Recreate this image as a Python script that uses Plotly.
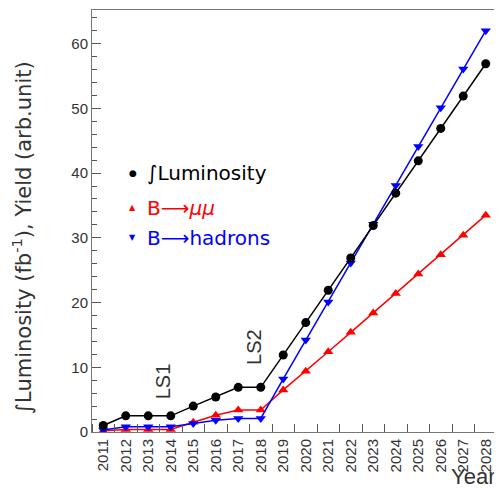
import plotly.graph_objects as go

years = list(range(2011, 2029))
tick_labels = [str(y) for y in years]
lumi = [1, 2.5, 2.5, 2.5, 4, 5.4, 6.9, 6.9, 11.9, 16.9, 21.9, 26.9, 31.9, 36.9, 41.9, 46.9, 51.9, 56.9]
b_mumu = [0.2, 0.4, 0.4, 0.4, 1.5, 2.6, 3.4, 3.4, 6.5, 9.4, 12.4, 15.4, 18.4, 21.4, 24.4, 27.4, 30.4, 33.5]
b_hadrons = [0.3, 0.8, 0.8, 0.8, 1.3, 1.8, 2.1, 2.1, 8.2, 14.2, 20.1, 26.1, 32.1, 38.1, 44.1, 50.1, 56.1, 62.0]

FONT = "Liberation Sans, Arial, sans-serif"
WIDE = "DejaVu Sans, Verdana, sans-serif"
TXT = "#333333"

fig = go.Figure()
fig.add_trace(go.Scatter(x=years, y=b_mumu, mode="lines+markers",
                         line=dict(color="#ff0000", width=1.5),
                         marker=dict(symbol="triangle-up", size=9, color="#ff0000"),
                         showlegend=False))
fig.add_trace(go.Scatter(x=years, y=b_hadrons, mode="lines+markers",
                         line=dict(color="#0000ff", width=1.5),
                         marker=dict(symbol="triangle-down", size=9, color="#0000ff"),
                         showlegend=False))
fig.add_trace(go.Scatter(x=years, y=lumi, mode="lines+markers",
                         line=dict(color="#000000", width=1.5),
                         marker=dict(symbol="circle", size=9, color="#000000"),
                         showlegend=False))

# legend as annotations
legend_items = [
    ("●", "∫Luminosity", "#000000", 0.614, 9),
    ("▲", "B⟶<i>μμ</i>", "#ff0000", 0.531, 8),
    ("▼", "B⟶hadrons", "#0000ff", 0.46, 8),
]
for sym, txt, col, yp, ss in legend_items:
    fig.add_annotation(xref="paper", yref="paper", x=0.101, y=yp, text=sym,
                       showarrow=False, xanchor="center", yanchor="middle",
                       font=dict(family=WIDE, size=ss, color=col))
    fig.add_annotation(xref="paper", yref="paper", x=0.132, y=yp, text=txt,
                       showarrow=False, xanchor="left", yanchor="middle",
                       font=dict(family=WIDE, size=20, color=col))

# LS labels
fig.add_annotation(x=2013.66, y=7.85, text="LS1", textangle=-90, showarrow=False,
                   xanchor="center", yanchor="middle",
                   font=dict(family=FONT, size=20, color=TXT))
fig.add_annotation(x=2017.67, y=13.2, text="LS2", textangle=-90, showarrow=False,
                   xanchor="center", yanchor="middle",
                   font=dict(family=FONT, size=20, color=TXT))

# axis titles
fig.add_annotation(xref="paper", yref="paper", x=1.0, y=0, yshift=-59, text="Year",
                   showarrow=False, xanchor="right", yanchor="bottom",
                   font=dict(family=FONT, size=22, color=TXT))
fig.add_annotation(xref="paper", yref="paper", x=0, xshift=-70, y=0.46,
                   text="∫Luminosity (fb<sup>-1</sup>), Yield (arb.unit)",
                   textangle=-90, showarrow=False, xanchor="center", yanchor="middle",
                   font=dict(family=WIDE, size=21, color=TXT))

fig.update_xaxes(range=[2010.5, 2028.5], tickvals=years, ticktext=tick_labels,
                 tickangle=-90, ticks="", showgrid=False, zeroline=False,
                 showline=True, mirror=True, linecolor="#777777", linewidth=1,
                 tickfont=dict(family=FONT, size=15, color=TXT),
                 minor=dict(tick0=2010.5, dtick=1, ticks="inside", ticklen=8,
                            tickcolor="#555555", showgrid=False))
fig.update_yaxes(range=[0, 65.2], dtick=10, ticks="inside", ticklen=9,
                 tickcolor="#555555", showgrid=False, zeroline=False,
                 showline=True, mirror=True, linecolor="#777777", linewidth=1,
                 tickfont=dict(family=FONT, size=15, color=TXT),
                 minor=dict(dtick=2, ticks="inside", ticklen=5,
                            tickcolor="#555555", showgrid=False))

fig.update_layout(width=494, height=480,
                  margin=dict(l=84, r=5, t=2, b=56),
                  paper_bgcolor="white", plot_bgcolor="white",
                  showlegend=False)

fig.write_html("out.html")
